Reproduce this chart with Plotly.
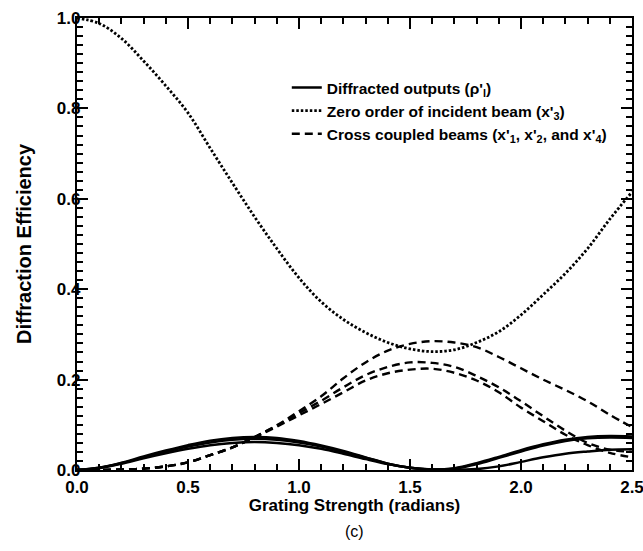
import plotly.graph_objects as go

x = [round(0.1 * i, 1) for i in range(26)]

zero_order = [1.0, 0.988, 0.955, 0.905, 0.85, 0.79, 0.712, 0.635, 0.56, 0.49, 0.425,
              0.372, 0.333, 0.304, 0.282, 0.268, 0.262, 0.266, 0.282, 0.306, 0.343,
              0.388, 0.435, 0.49, 0.555, 0.615]

cross_a = [0.0, 0.0, 0.001, 0.003, 0.008, 0.017, 0.033, 0.05, 0.073, 0.099, 0.13,
           0.163, 0.203, 0.238, 0.264, 0.279, 0.285, 0.282, 0.272, 0.25, 0.225,
           0.2, 0.177, 0.152, 0.122, 0.095]
cross_b = [0.0, 0.0, 0.001, 0.003, 0.008, 0.017, 0.033, 0.05, 0.073, 0.098, 0.126,
           0.153, 0.183, 0.21, 0.228, 0.238, 0.237, 0.228, 0.208, 0.183, 0.152,
           0.119, 0.087, 0.06, 0.045, 0.04]
cross_c = [0.0, 0.0, 0.001, 0.003, 0.008, 0.017, 0.033, 0.05, 0.072, 0.096, 0.121,
           0.146, 0.172, 0.198, 0.214, 0.222, 0.224, 0.215, 0.198, 0.172, 0.138,
           0.108, 0.078, 0.055, 0.038, 0.028]

diff_1 = [0.0, 0.005, 0.016, 0.03, 0.043, 0.055, 0.065, 0.071, 0.073, 0.071, 0.064,
          0.054, 0.042, 0.028, 0.014, 0.005, 0.001, 0.004, 0.015, 0.029, 0.044,
          0.057, 0.067, 0.073, 0.075, 0.074]
diff_2 = [0.0, 0.005, 0.015, 0.028, 0.041, 0.052, 0.061, 0.067, 0.069, 0.067, 0.061,
          0.052, 0.04, 0.027, 0.014, 0.005, 0.001, 0.003, 0.013, 0.027, 0.041,
          0.054, 0.064, 0.07, 0.072, 0.071]
diff_3 = [0.0, 0.004, 0.014, 0.026, 0.037, 0.047, 0.055, 0.06, 0.062, 0.06, 0.055,
          0.047, 0.036, 0.024, 0.013, 0.005, 0.001, 0.0, 0.002, 0.008, 0.018,
          0.028, 0.036, 0.041, 0.045, 0.046]

x_ticks = [0.0, 0.5, 1.0, 1.5, 2.0, 2.5]
x_tick_labels = ["0.0", "0.5", "1.0", "1.5", "2.0", "2.5"]
y_ticks = [0.0, 0.2, 0.4, 0.6, 0.8, 1.0]
y_tick_labels = ["0.0", "0.2", "0.4", "0.6", "0.8", "1.0"]

legend_solid = "Diffracted outputs (ρ'<sub>l</sub>)"
legend_dot = "Zero order of incident beam (x'<sub>3</sub>)"
legend_dash = "Cross coupled beams (x'<sub>1</sub>, x'<sub>2</sub>, and x'<sub>4</sub>)"

fig = go.Figure()

line_kw = dict(shape="spline", smoothing=1.0, color="black")

for i, ys in enumerate([diff_1, diff_2, diff_3]):
    fig.add_trace(go.Scatter(x=x, y=ys, mode="lines", name=legend_solid,
                             legendgroup="s", showlegend=(i == 0),
                             line=dict(width=2.5, dash="solid", **line_kw)))

fig.add_trace(go.Scatter(x=x, y=zero_order, mode="lines", name=legend_dot,
                         legendgroup="d", showlegend=True,
                         line=dict(width=2.8, dash="2.5px,2px", **line_kw)))

for i, ys in enumerate([cross_a, cross_b, cross_c]):
    fig.add_trace(go.Scatter(x=x, y=ys, mode="lines", name=legend_dash,
                             legendgroup="c", showlegend=(i == 0),
                             line=dict(width=2.4, dash="8px,5px", **line_kw)))

font_family = "Liberation Sans, Arial, sans-serif"

fig.update_layout(
    width=643, height=551,
    margin=dict(l=77, r=11, t=18, b=81, autoexpand=False),
    paper_bgcolor="white", plot_bgcolor="white",
    font=dict(family=font_family, color="black", size=15, weight="bold"),
    showlegend=True,
    legend=dict(x=0.378, y=0.883, xanchor="left", yanchor="top",
                bgcolor="rgba(0,0,0,0)", font=dict(size=15.5, weight="bold"),
                tracegroupgap=0, itemwidth=30),
    annotations=[dict(text="(c)", x=0.5, y=-0.113, xref="paper", yref="paper",
                      xanchor="center", yanchor="top", showarrow=False,
                      font=dict(size=16, weight="normal"))],
)

fig.update_xaxes(
    range=[0, 2.5], tickvals=x_ticks, ticktext=x_tick_labels,
    ticks="inside", ticklen=11, tickwidth=1.5, tickcolor="black",
    showline=True, linewidth=2.2, linecolor="black", mirror="allticks",
    showgrid=False, zeroline=False, automargin=False,
    ticklabeloverflow="allow",
    tickfont=dict(size=17, weight="bold"),
    minor=dict(dtick=0.1, tick0=0, ticks="inside", ticklen=6, tickwidth=1.5,
               tickcolor="black", showgrid=False),
    title=dict(text="Grating Strength (radians)", font=dict(size=17, weight="bold"),
               standoff=4),
)
fig.update_yaxes(
    range=[0, 1.0], tickvals=y_ticks, ticktext=y_tick_labels,
    ticks="inside", ticklen=11, tickwidth=1.5, tickcolor="black",
    showline=True, linewidth=2.2, linecolor="black", mirror="allticks",
    showgrid=False, zeroline=False, automargin=False,
    ticklabelposition="outside", ticklabelstandoff=-9,
    ticklabeloverflow="allow",
    tickfont=dict(size=17, weight="bold"),
    minor=dict(dtick=0.02, tick0=0, ticks="inside", ticklen=6, tickwidth=1.5,
               tickcolor="black", showgrid=False),
    title=dict(text="Diffraction Efficiency", font=dict(size=20, weight="bold"),
               standoff=20),
)

fig.write_html("out.html")
